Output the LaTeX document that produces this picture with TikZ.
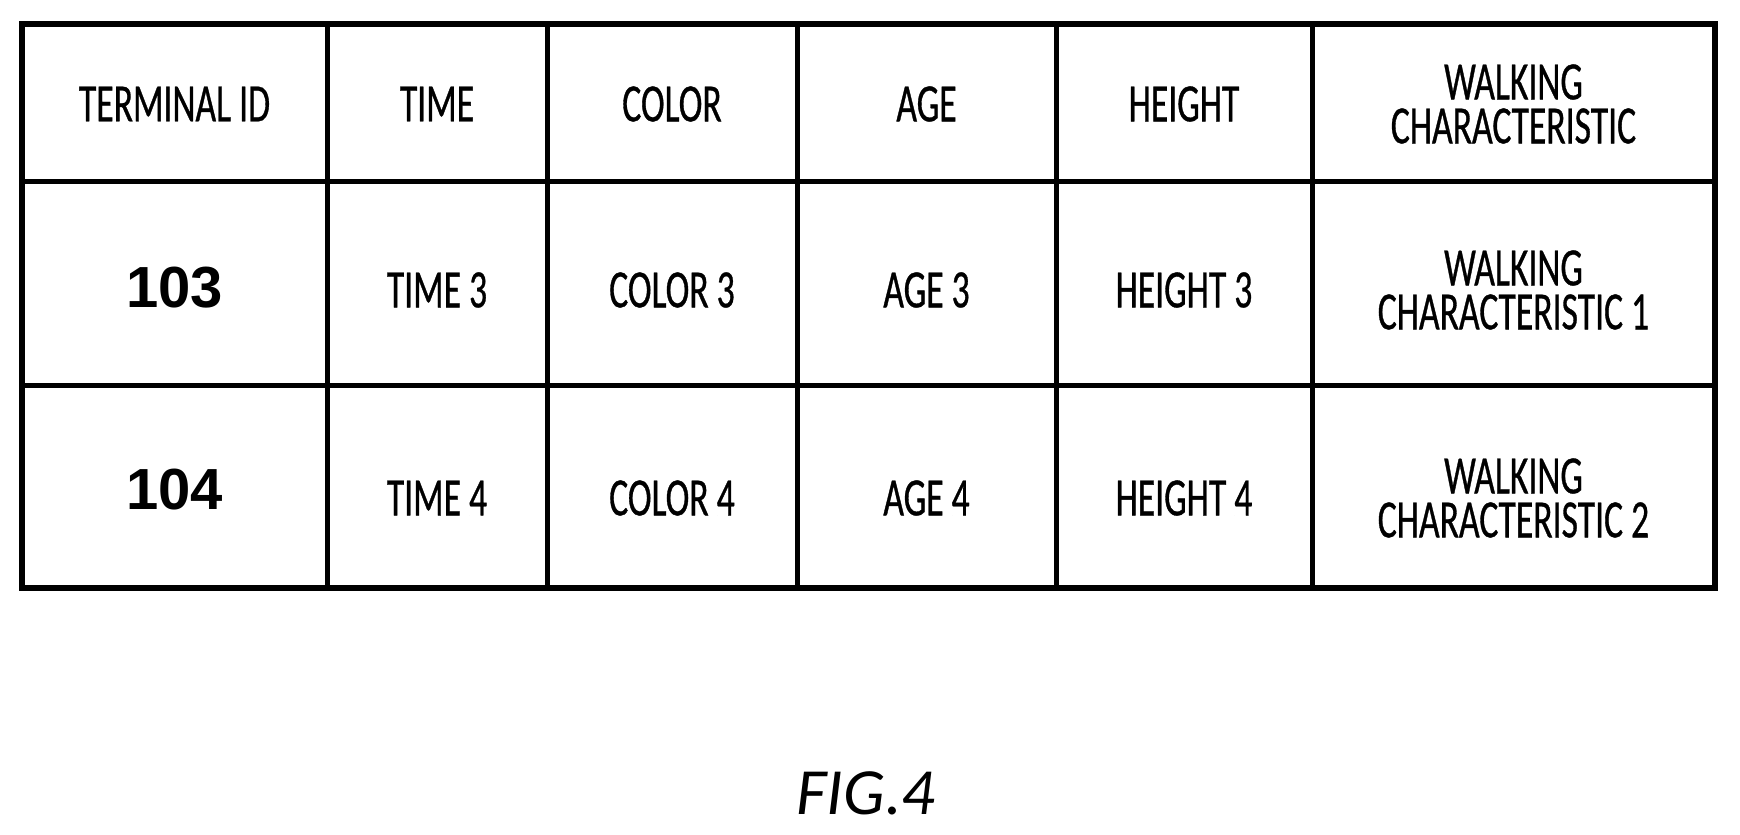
\documentclass[tikz,border=0pt]{standalone}
\usepackage{fontspec}
\setmainfont{Carlito}
\newfontfamily\cellfont[FakeStretch=0.66,FakeBold=0.6]{Carlito}
\newfontfamily\numfont{Liberation Sans}
\begin{document}
\begin{tikzpicture}[x=1pt,y=-1pt,
  cell/.style={align=center,font=\cellfont\fontsize{54}{44}\selectfont,inner sep=0pt},
  num/.style={font=\numfont\bfseries\fontsize{58}{60}\selectfont,inner sep=0pt}]
\useasboundingbox (0,0) rectangle (1740,835);
\draw[line width=5.5pt] (22,24) rectangle (1715,588);
\foreach \x in {327,547,797,1056,1312} \draw[line width=5pt] (\x,24) -- (\x,588);
\foreach \y in {181,385} \draw[line width=5pt] (22,\y) -- (1715,\y);
\node[cell] (h1) at (174.5,104) {TERMINAL ID};
\node[cell] (h2) at (437,104) {TIME};
\node[cell] (h3) at (672,104) {COLOR};
\node[cell] (h4) at (926.5,104) {AGE};
\node[cell] (h5) at (1184,104) {HEIGHT};
\node[cell] (h6) at (1513.5,104) {WALKING\\CHARACTERISTIC};
\node[num] (a1) at (174.5,288) {103};
\node[cell] (a2) at (437,290) {TIME 3};
\node[cell] (a3) at (672,290) {COLOR 3};
\node[cell] (a4) at (926.5,290) {AGE 3};
\node[cell] (a5) at (1184,290) {HEIGHT 3};
\node[cell] (a6) at (1513.5,290) {WALKING\\CHARACTERISTIC 1};
\node[num] (b1) at (174.5,490) {104};
\node[cell] (b2) at (437,498) {TIME 4};
\node[cell] (b3) at (672,498) {COLOR 4};
\node[cell] (b4) at (926.5,498) {AGE 4};
\node[cell] (b5) at (1184,498) {HEIGHT 4};
\node[cell] (b6) at (1513.5,498) {WALKING\\CHARACTERISTIC 2};
\node[font=\itshape\fontsize{66}{70}\selectfont] (fig) at (866,793) {FIG.4};
\end{tikzpicture}
\end{document}
